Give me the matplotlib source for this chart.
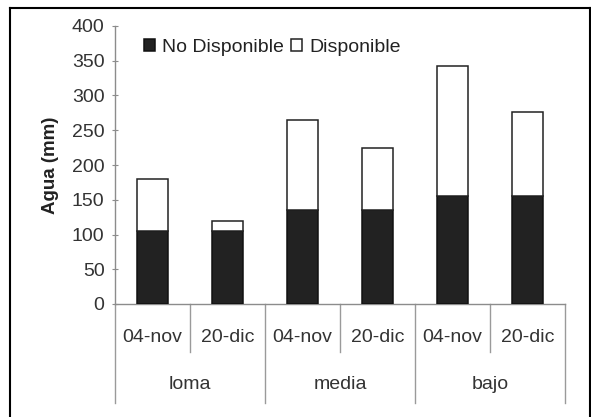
import matplotlib
matplotlib.use("Agg")
import matplotlib.pyplot as plt
from matplotlib.lines import Line2D
import matplotlib.transforms as mtransforms

plt.rcParams['font.family'] = ['Liberation Sans', 'DejaVu Sans']

fechas = ["04-nov", "20-dic", "04-nov", "20-dic", "04-nov", "20-dic"]
grupos = ["loma", "media", "bajo"]
no_disponible = [105, 105, 135, 135, 155, 155]
total = [180, 120, 265, 225, 342, 276]
disponible = [t - n for t, n in zip(total, no_disponible)]
yticks = [0, 50, 100, 150, 200, 250, 300, 350, 400]

W, H = 591, 417
fig = plt.figure(figsize=(W / 100, H / 100), dpi=100)
ax = fig.add_axes([115 / W, 1 - 304 / H, 450 / W, 278 / H])

x = list(range(len(fechas)))
bw = 0.41
ax.bar(x, no_disponible, width=bw, color="#222222", edgecolor="#111111",
       linewidth=1.1, label="No Disponible", zorder=3)
ax.bar(x, disponible, width=bw, bottom=no_disponible, color="white",
       edgecolor="#222222", linewidth=1.1, label="Disponible", zorder=3)

ax.set_xlim(-0.5, len(fechas) - 0.5)
ax.set_ylim(0, 400)
ax.set_yticks(yticks)
ax.set_yticklabels([str(v) for v in yticks])
ax.set_xticks([])

for s in ["top", "right"]:
    ax.spines[s].set_visible(False)
for s in ["left", "bottom"]:
    ax.spines[s].set_color("#8c8c8c")
    ax.spines[s].set_linewidth(1.0)
ax.tick_params(axis="y", direction="inout", length=5, width=0.8,
               color="#8c8c8c", labelsize=14, labelcolor="#333333", pad=5)

ax.set_ylabel("Agua (mm)", fontsize=13.5, fontweight="bold", color="#222222",
              labelpad=9)

trans = mtransforms.blended_transform_factory(ax.transData, ax.transAxes)
# subcategory labels
for xi, f in zip(x, fechas):
    ax.text(xi, -0.119, f, transform=trans, ha="center", va="center",
            fontsize=14, color="#333333")
# group labels
for gi, g in enumerate(grupos):
    ax.text(2 * gi + 0.5, -0.291, g, transform=trans, ha="center", va="center",
            fontsize=14, color="#333333")
# separators
for b in [-0.5, 1.5, 3.5, 5.5]:
    ax.add_line(Line2D([b, b], [0, -0.356], transform=trans, color="#9a9a9a",
                       linewidth=1.0, clip_on=False))
for b in [0.5, 2.5, 4.5]:
    ax.add_line(Line2D([b, b], [0, -0.173], transform=trans, color="#9a9a9a",
                       linewidth=1.0, clip_on=False))

leg = ax.legend(loc="upper left", bbox_to_anchor=(144 / W, 1 - 39 / H),
                bbox_transform=fig.transFigure, ncol=2, frameon=False,
                fontsize=14, handlelength=0.55, handleheight=0.55,
                handletextpad=0.4, columnspacing=0.35, borderpad=0,
                borderaxespad=0)
for t in leg.get_texts():
    t.set_color("#222222")

# figure border
fig.add_artist(Line2D([10 / W, 10 / W], [0, 1 - 8 / H], transform=fig.transFigure,
                      color="black", linewidth=1.5))
fig.add_artist(Line2D([590 / W, 590 / W], [0, 1 - 8 / H], transform=fig.transFigure,
                      color="black", linewidth=1.5))
fig.add_artist(Line2D([10 / W, 590 / W], [1 - 8 / H, 1 - 8 / H], transform=fig.transFigure,
                      color="black", linewidth=1.5))

fig.savefig("out.png", dpi=100, facecolor="white")
